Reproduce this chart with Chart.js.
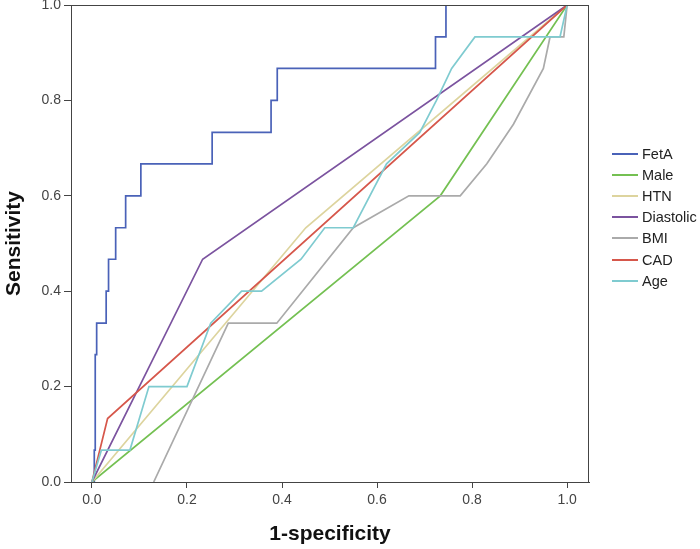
<!DOCTYPE html>
<html>
<head>
<meta charset="utf-8">
<script src="https://cdn.jsdelivr.net/npm/chart.js@4.4.1/dist/chart.umd.min.js"></script>
<style>
  html, body { margin: 0; padding: 0; background: #fff; }
  #wrap { position: relative; width: 700px; height: 549px; }
  #legend { position: absolute; left: 612px; top: 143px; font: 14.5px "Liberation Sans", Arial, sans-serif; color: #222; }
  #legend .row { height: 21.2px; display: flex; align-items: center; white-space: nowrap; }
  #legend .swatch { width: 26px; height: 2px; margin-right: 4px; }
</style>
</head>
<body>
<div id="wrap">
  <canvas id="rocChart" width="700" height="549"></canvas>
  <div id="legend"></div>
</div>
<script>
// ROC curves, values
const seriesNames = ["FetA", "Male", "HTN", "Diastolic", "BMI", "CAD", "Age"];

const fetaX = [0, 0.005, 0.005, 0.007, 0.007, 0.01, 0.01, 0.03, 0.03, 0.035, 0.035, 0.05, 0.05, 0.071, 0.071, 0.103, 0.103, 0.253, 0.253, 0.377, 0.377, 0.39, 0.39, 0.723, 0.723, 0.745, 0.745, 1];
const fetaY = [0, 0, 0.067, 0.067, 0.267, 0.267, 0.333, 0.333, 0.4, 0.4, 0.467, 0.467, 0.533, 0.533, 0.6, 0.6, 0.667, 0.667, 0.733, 0.733, 0.8, 0.8, 0.867, 0.867, 0.933, 0.933, 1, 1];

const maleX = [0, 0.733, 1];
const maleY = [0, 0.6, 1];

const htnX = [0, 0.45, 1];
const htnY = [0, 0.533, 1];

const diastolicX = [0, 0.233, 1];
const diastolicY = [0, 0.467, 1];

const bmiX = [0.13, 0.287, 0.389, 0.55, 0.667, 0.775, 0.831, 0.887, 0.95, 0.964, 0.993, 1];
const bmiY = [0, 0.333, 0.333, 0.533, 0.6, 0.6, 0.667, 0.75, 0.867, 0.933, 0.933, 1];

const cadX = [0, 0.033, 1];
const cadY = [0, 0.133, 1];

const ageX = [0, 0.02, 0.08, 0.12, 0.2, 0.25, 0.315, 0.357, 0.44, 0.49, 0.55, 0.62, 0.69, 0.725, 0.757, 0.806, 0.985, 1];
const ageY = [0, 0.067, 0.067, 0.2, 0.2, 0.333, 0.4, 0.4, 0.467, 0.533, 0.533, 0.667, 0.733, 0.8, 0.867, 0.933, 0.933, 1];

const xTicks = [0, 0.2, 0.4, 0.6, 0.8, 1.0];
const yTicks = [0, 0.2, 0.4, 0.6, 0.8, 1.0];

const seriesColors = ["#4a62b8", "#74c052", "#ddd49e", "#7b539f", "#aaaaaa", "#d6574b", "#7fcbd0"];

const seriesXs = [fetaX, maleX, htnX, diastolicX, bmiX, cadX, ageX];
const seriesYs = [fetaY, maleY, htnY, diastolicY, bmiY, cadY, ageY];

function toPoints(xs, ys) {
  return xs.map((x, i) => ({ x: x, y: ys[i] }));
}

const datasets = seriesNames.map((name, i) => ({
  label: name,
  data: toPoints(seriesXs[i], seriesYs[i]),
  borderColor: seriesColors[i],
  backgroundColor: seriesColors[i],
  borderWidth: 1.7,
  pointRadius: 0,
  showLine: true,
  tension: 0,
  order: seriesNames.length - i,
}));

// box around the plot area
const frame = {
  id: "frame",
  afterDraw(chart) {
    const { ctx, chartArea: a } = chart;
    ctx.save();
    ctx.strokeStyle = "#444";
    ctx.lineWidth = 1;
    ctx.strokeRect(a.left + 0.5, a.top + 0.5, a.right - a.left - 1, a.bottom - a.top);
    ctx.restore();
  },
};

const tickFont = { family: "'Liberation Sans', Arial, sans-serif", size: 14 };
const titleFont = { family: "'Liberation Sans', Arial, sans-serif", size: 21, weight: "bold" };

const ctx = document.getElementById("rocChart").getContext("2d");
const rocChart = new Chart(ctx, {
  type: "scatter",
  data: { datasets },
  options: {
    responsive: false,
    animation: false,
    layout: { padding: { top: 5, right: 111, left: 0, bottom: 0 } },
    plugins: {
      legend: { display: false },
      tooltip: { enabled: false },
    },
    scales: {
      x: {
        type: "linear",
        min: -0.044,
        max: 1.046,
        afterBuildTicks: (s) => { s.ticks = xTicks.map((v) => ({ value: v })); },
        afterFit: (s) => { s.height = 67; s.paddingLeft = 0; s.paddingRight = 0; },
        ticks: { font: tickFont, color: "#444", padding: 4, callback: (v) => v.toFixed(1) },
        grid: { drawOnChartArea: false, tickLength: 6, color: "#444" },
        border: { color: "#444" },
        title: { display: true, text: "1-specificity", font: titleFont, color: "#111", padding: { top: 4, bottom: 2 } },
      },
      y: {
        type: "linear",
        min: 0,
        max: 1,
        afterBuildTicks: (s) => { s.ticks = yTicks.map((v) => ({ value: v })); },
        afterFit: (s) => { s.width = 71; s.paddingTop = 0; s.paddingBottom = 0; },
        ticks: { font: tickFont, color: "#444", padding: 3, callback: (v) => v.toFixed(1) },
        grid: { drawOnChartArea: false, tickLength: 7, color: "#444" },
        border: { color: "#444" },
        title: { display: true, text: "Sensitivity", font: titleFont, color: "#111", padding: { top: 2, bottom: 4 } },
      },
    },
  },
  plugins: [frame],
});

// legend as html, same order as the figure
const legendEl = document.getElementById("legend");
seriesNames.forEach((name, i) => {
  const row = document.createElement("div");
  row.className = "row";
  const sw = document.createElement("span");
  sw.className = "swatch";
  sw.style.background = seriesColors[i];
  const label = document.createElement("span");
  label.textContent = name;
  row.appendChild(sw);
  row.appendChild(label);
  legendEl.appendChild(row);
});
</script>
</body>
</html>
